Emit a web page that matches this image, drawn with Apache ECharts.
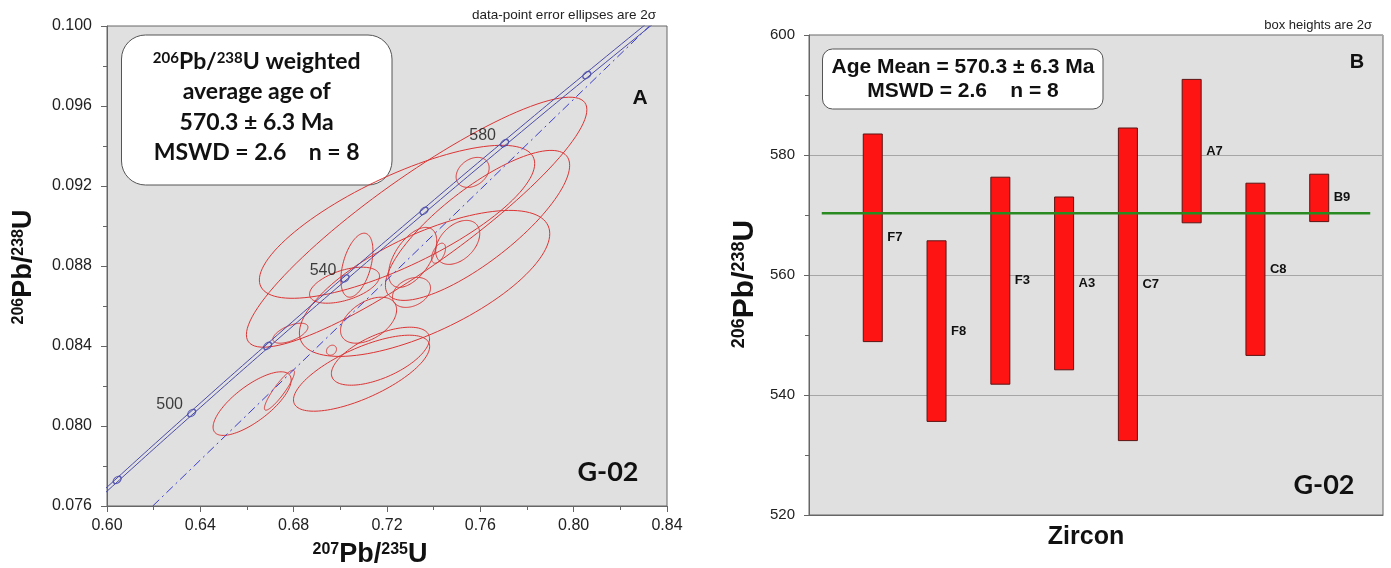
<!DOCTYPE html>
<html><head><meta charset="utf-8">
<script src="https://cdn.jsdelivr.net/npm/echarts@6/dist/echarts.min.js"></script>
<style>html,body{margin:0;padding:0;background:#fff}#c{width:1391px;height:568px}</style>
</head><body><div id="c"></div>
<script>
// ---------- Panel A : concordia diagram ----------
const concAges = [460, 480, 500, 520, 540, 560, 580, 600, 620];
const concX = [0.57307, 0.60436, 0.63628, 0.66883, 0.70203, 0.73588, 0.77041, 0.80563, 0.84155];
const concY = [0.073965, 0.077302, 0.080650, 0.084007, 0.087376, 0.090755, 0.094144, 0.097544, 0.100954];
// concordia band edges (207Pb/235U), same ages
const bandXLeft  = [0.57217, 0.60339, 0.63523, 0.66771, 0.70083, 0.73461, 0.76906, 0.80421, 0.84005];
const bandXRight = [0.57397, 0.60533, 0.63733, 0.66995, 0.70323, 0.73715, 0.77176, 0.80705, 0.84305];
const labeledAges = [500, 540, 580];
// dash-dot reference line
const refLineX = [0.6196, 0.8325];
const refLineY = [0.0760, 0.1000];
// error ellipses: centre, 2-sigma half-widths, correlation
const ellCx  = [0.6622, 0.6739, 0.7091, 0.7172, 0.7121, 0.6786, 0.6962, 0.7327, 0.7243, 0.7567, 0.7588, 0.7361, 0.7421, 0.7071, 0.7018, 0.7310, 0.7503, 0.7305];
const ellCy  = [0.08112, 0.08179, 0.08264, 0.08349, 0.08529, 0.08464, 0.08379, 0.09019, 0.09021, 0.09268, 0.09003, 0.08713, 0.08864, 0.08804, 0.08704, 0.08843, 0.08918, 0.08668];
const ellEx  = [0.01674, 0.00644, 0.02918, 0.02103, 0.01202, 0.00751, 0.00215, 0.07296, 0.0590, 0.00708, 0.03948, 0.05365, 0.0030, 0.00687, 0.0150, 0.0103, 0.00944, 0.00815];
const ellEy  = [0.00159, 0.00100, 0.00190, 0.00145, 0.00115, 0.00050, 0.00025, 0.00625, 0.003825, 0.00075, 0.00375, 0.00365, 0.0005, 0.0016, 0.0009, 0.0015, 0.0011, 0.00075];
const ellRho = [0.74, 0.9, 0.7, 0.6, 0.45, 0.6, 0.2, 0.9, 0.76, 0.3, 0.8, 0.68, 0.5, 0.45, 0.5, 0.55, 0.4, 0.3];
const xTickA = [0.60, 0.84, 0.04];
const yTickA = [0.076, 0.100, 0.004];

// ---------- Panel B : weighted mean ----------
const zircons = ['F7', 'F8', 'F3', 'A3', 'C7', 'A7', 'C8', 'B9'];
const boxLow  = [548.9, 535.6, 541.8, 544.2, 532.4, 568.7, 546.6, 568.9];
const boxHigh = [583.5, 565.7, 576.3, 573.0, 584.5, 592.6, 575.3, 576.8];
const meanAge = 570.3;
const meanLineX = [0.2, 8.8];
const yTickB = [520, 600, 20];

const FONT = "'Liberation Sans', Arial, sans-serif";
const NARROW = "'Liberation Sans Narrow', 'Arial Narrow', 'Liberation Sans', sans-serif";
const CAL = "Lato, 'Open Sans', sans-serif";

const chart = echarts.init(document.getElementById('c'), null, {renderer: 'canvas'});

const ellData = ellCx.map((c, i) => [c, ellCy[i], ellEx[i], ellEy[i], ellRho[i]]);
const markerData = [];
concAges.forEach((a, i) => {
  if (concX[i] >= xTickA[0] && concX[i] <= xTickA[1] && concY[i] >= yTickA[0] && concY[i] <= yTickA[1]) {
    markerData.push({value: [concX[i], concY[i]], label: {show: labeledAges.indexOf(a) >= 0, formatter: String(a)}});
  }
});
const boxData = zircons.map((z, i) => [i + 1, boxLow[i], boxHigh[i]]);

function sup(t) { return '{s|' + t + '}'; }

const option = {
  animation: false,
  grid: [
    {left: 107, top: 26, width: 560, height: 480, show: true, backgroundColor: '#e0e0e0', borderColor: '#666', borderWidth: 1},
    {left: 809, top: 35, width: 574, height: 480, show: true, backgroundColor: '#e0e0e0', borderColor: '#666', borderWidth: 1}
  ],
  xAxis: [
    {gridIndex: 0, type: 'value', min: xTickA[0], max: xTickA[1], interval: xTickA[2],
     axisLine: {show: true, lineStyle: {color: '#666'}},
     axisTick: {show: true, length: 6, lineStyle: {color: '#666'}},
     minorTick: {show: true, splitNumber: 2, length: 4, lineStyle: {color: '#666'}},
     splitLine: {show: false},
     axisLabel: {fontFamily: FONT, fontSize: 16, color: '#222', margin: 12, formatter: v => v.toFixed(2)}},
    {gridIndex: 1, type: 'value', min: 0, max: 9,
     axisLine: {show: true, lineStyle: {color: '#666'}},
     axisTick: {show: false}, axisLabel: {show: false}, splitLine: {show: false}}
  ],
  yAxis: [
    {gridIndex: 0, type: 'value', min: yTickA[0], max: yTickA[1], interval: yTickA[2],
     axisLine: {show: true, lineStyle: {color: '#666'}},
     axisTick: {show: true, length: 6, lineStyle: {color: '#666'}},
     minorTick: {show: true, splitNumber: 2, length: 4, lineStyle: {color: '#666'}},
     splitLine: {show: false},
     axisLabel: {fontFamily: FONT, fontSize: 16, color: '#222', margin: 15, formatter: v => v.toFixed(3)}},
    {gridIndex: 1, type: 'value', min: yTickB[0], max: yTickB[1], interval: yTickB[2],
     axisLine: {show: true, lineStyle: {color: '#666'}},
     axisTick: {show: true, length: 5, lineStyle: {color: '#666'}},
     minorTick: {show: true, splitNumber: 2, length: 4, lineStyle: {color: '#666'}},
     splitLine: {show: true, lineStyle: {color: '#a6a6a6', width: 1}},
     axisLabel: {fontFamily: FONT, fontSize: 15, color: '#222', margin: 14}}
  ],
  series: [
    {type: 'custom', xAxisIndex: 0, yAxisIndex: 0, clip: true, data: ellData,
     encode: {x: 0, y: 1},
     renderItem: function (params, api) {
       const cx = api.value(0), cy = api.value(1), ex = api.value(2), ey = api.value(3), r = api.value(4);
       const s = Math.sqrt(1 - r * r);
       const pts = [];
       for (let k = 0; k <= 120; k++) {
         const t = k / 120 * 2 * Math.PI;
         pts.push(api.coord([cx + ex * Math.cos(t), cy + ey * (r * Math.cos(t) + s * Math.sin(t))]));
       }
       return {type: 'polygon', shape: {points: pts}, style: {fill: 'none', stroke: '#dc3434', lineWidth: 1}};
     }},
    {type: 'line', xAxisIndex: 0, yAxisIndex: 0, clip: true, smooth: true, symbol: 'none',
     data: bandXLeft.map((x, i) => [x, concY[i]]), lineStyle: {color: '#4a4aa8', width: 1}},
    {type: 'line', xAxisIndex: 0, yAxisIndex: 0, clip: true, smooth: true, symbol: 'none',
     data: bandXRight.map((x, i) => [x, concY[i]]), lineStyle: {color: '#4a4aa8', width: 1}},
    {type: 'line', xAxisIndex: 0, yAxisIndex: 0, clip: true, symbol: 'none',
     data: refLineX.map((x, i) => [x, refLineY[i]]), lineStyle: {color: '#3c3cd0', width: 1, type: [9, 4, 2, 4]}},
    {type: 'scatter', xAxisIndex: 0, yAxisIndex: 0, clip: true, data: markerData,
     symbol: 'circle', symbolSize: [9, 6], symbolRotate: 40,
     itemStyle: {color: 'rgba(0,0,0,0)', borderColor: '#3a3aa8', borderWidth: 1.3},
     label: {position: 'inside', offset: [-22, -8], fontFamily: FONT, fontSize: 16, color: '#111'}},
    {type: 'custom', xAxisIndex: 1, yAxisIndex: 1, data: boxData, encode: {x: 0, y: [1, 2]},
     renderItem: function (params, api) {
       const i = api.value(0), lo = api.value(1), hi = api.value(2);
       const p1 = api.coord([i - 0.149, hi]);
       const p2 = api.coord([i + 0.149, lo]);
       const mid = api.coord([i + 0.149, (lo + hi) / 2]);
       return {type: 'group', children: [
         {type: 'rect', shape: {x: p1[0], y: p1[1], width: p2[0] - p1[0], height: p2[1] - p1[1]},
          style: {fill: '#ff1414', stroke: '#5a1414', lineWidth: 1}},
         {type: 'text', x: mid[0] + 5, y: mid[1],
          style: {text: zircons[params.dataIndex], fill: '#111', font: 'bold 13px ' + NARROW, align: 'left', verticalAlign: 'middle'}}
       ]};
     }},
    {type: 'line', xAxisIndex: 1, yAxisIndex: 1, symbol: 'none',
     data: meanLineX.map(x => [x, meanAge]), lineStyle: {color: '#2a8a22', width: 2.6}}
  ],
  graphic: [
    // Panel A texts
    {type: 'text', x: 656, y: 15, style: {text: 'data-point error ellipses are 2σ', font: '13.5px ' + FONT, fill: '#222', align: 'right', verticalAlign: 'middle'}},
    {type: 'rect', shape: {x: 121.5, y: 35, width: 270.5, height: 150, r: 24}, style: {fill: '#fff', stroke: '#555', lineWidth: 1}},
    {type: 'text', x: 256.7, y: 62, style: {text: sup('206') + '{t|Pb/}' + sup('238') + '{t|U weighted}', align: 'center', verticalAlign: 'middle',
      rich: {t: {font: 'bold 23px ' + CAL, fill: '#111'}, s: {font: 'bold 15px ' + CAL, fill: '#111', verticalAlign: 'top'}}}},
    {type: 'text', x: 256.7, y: 92, style: {text: 'average age of', font: 'bold 23px ' + CAL, fill: '#111', align: 'center', verticalAlign: 'middle'}},
    {type: 'text', x: 256.7, y: 123, style: {text: '570.3 ± 6.3 Ma', font: 'bold 23px ' + CAL, fill: '#111', align: 'center', verticalAlign: 'middle'}},
    {type: 'text', x: 256.7, y: 153, style: {text: 'MSWD = 2.6    n = 8', font: 'bold 23px ' + CAL, fill: '#111', align: 'center', verticalAlign: 'middle'}},
    {type: 'text', x: 640, y: 98, style: {text: 'A', font: 'bold 21px ' + FONT, fill: '#111', align: 'center', verticalAlign: 'middle'}},
    {type: 'text', x: 608, y: 472, style: {text: 'G-02', font: 'bold 27px ' + CAL, fill: '#111', align: 'center', verticalAlign: 'middle'}},
    {type: 'text', x: 370, y: 555, style: {text: sup('207') + '{t|Pb/}' + sup('235') + '{t|U}', align: 'center', verticalAlign: 'middle',
      rich: {t: {font: 'bold 27px ' + FONT, fill: '#111'}, s: {font: 'bold 16px ' + FONT, fill: '#111', verticalAlign: 'top'}}}},
    {type: 'text', x: 24, y: 267, rotation: Math.PI / 2, style: {text: sup('206') + '{t|Pb/}' + sup('238') + '{t|U}', align: 'center', verticalAlign: 'middle',
      rich: {t: {font: 'bold 27px ' + FONT, fill: '#111'}, s: {font: 'bold 16px ' + FONT, fill: '#111', verticalAlign: 'top'}}}},
    // Panel B texts
    {type: 'text', x: 1372, y: 25, style: {text: 'box heights are 2σ', font: '13px ' + FONT, fill: '#222', align: 'right', verticalAlign: 'middle'}},
    {type: 'rect', shape: {x: 822.5, y: 49, width: 280.5, height: 60, r: 10}, style: {fill: '#fff', stroke: '#555', lineWidth: 1}},
    {type: 'text', x: 963, y: 67, style: {text: 'Age Mean = 570.3 ± 6.3 Ma', font: 'bold 21px ' + FONT, fill: '#111', align: 'center', verticalAlign: 'middle'}},
    {type: 'text', x: 963, y: 91, style: {text: 'MSWD = 2.6    n = 8', font: 'bold 21px ' + FONT, fill: '#111', align: 'center', verticalAlign: 'middle'}},
    {type: 'text', x: 1357, y: 62, style: {text: 'B', font: 'bold 20px ' + FONT, fill: '#111', align: 'center', verticalAlign: 'middle'}},
    {type: 'text', x: 1324, y: 485, style: {text: 'G-02', font: 'bold 27px ' + CAL, fill: '#111', align: 'center', verticalAlign: 'middle'}},
    {type: 'text', x: 1086, y: 537, style: {text: 'Zircon', font: 'bold 25px ' + FONT, fill: '#111', align: 'center', verticalAlign: 'middle'}},
    {type: 'text', x: 745, y: 284, rotation: Math.PI / 2, style: {text: sup('206') + '{t|Pb/}' + sup('238') + '{t|U}', align: 'center', verticalAlign: 'middle',
      rich: {t: {font: 'bold 30px ' + FONT, fill: '#111'}, s: {font: 'bold 18px ' + FONT, fill: '#111', verticalAlign: 'top'}}}}
  ]
};
chart.setOption(option);
</script></body></html>
